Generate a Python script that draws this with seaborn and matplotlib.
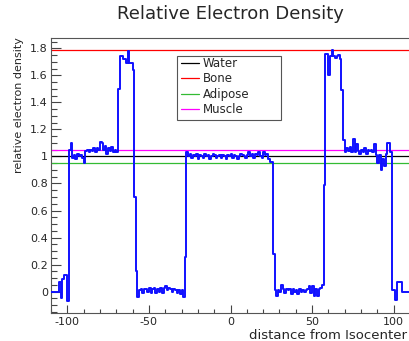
import numpy as np
import pandas as pd
import matplotlib
matplotlib.use('Agg')
import matplotlib.pyplot as plt
import matplotlib.patches as mpatches
from matplotlib.ticker import MultipleLocator, FuncFormatter
import seaborn as sns

# histogram binning (1 mm bins from -110 to 110)
bin_low, bin_width = -110, 1

# relative electron density per bin, split by region of the phantom
tail_left = [0.00, 0.00, 0.00, 0.00, 0.00, 0.07, -0.05, 0.09, 0.12, 0.12, -0.07]
soft_left = [1.05, 1.10, 0.99, 1.01, 0.98, 1.02, 1.00, 1.01, 0.99, 0.95,
             1.04, 1.05, 1.03, 1.05, 1.04, 1.06, 1.03, 1.06, 1.05, 1.11,
             1.10, 1.05, 1.08, 1.02, 1.06, 1.04, 1.07, 1.03, 1.05, 1.03]
bone_left = [1.50, 1.74, 1.74, 1.72, 1.72, 1.69, 1.78, 1.69, 1.69, 1.64, 0.70, 0.15]
gap_left = [-0.04, 0.01, 0.02, -0.01, 0.02, 0.02, 0.00, 0.03, -0.01, 0.02,
            0.03, -0.01, 0.02, 0.00, 0.03, -0.01, 0.03, 0.04, 0.01, 0.03,
            0.02, 0.00, 0.02, 0.01, -0.01, 0.01, -0.02, 0.01, -0.04, 0.26]
center = [1.03, 1.00, 1.02, 0.99, 1.01, 1.00, 1.02, 0.98, 1.01, 1.00,
          0.99, 1.02, 1.00, 1.01, 0.98, 1.00, 1.02, 1.01, 0.99, 1.00,
          1.01, 0.99, 1.01, 1.00, 0.98, 1.01, 1.00, 1.02, 0.99, 1.01,
          1.00, 0.98, 1.00, 1.02, 1.01, 1.00, 0.99, 1.01, 1.03, 1.00,
          1.02, 0.99, 1.02, 1.01, 1.03, 1.00, 0.99, 1.03, 1.01, 1.02,
          0.98, 0.96, 0.96]
gap_right = [0.28, 0.01, -0.03, 0.01, 0.00, 0.05, 0.02, -0.01, 0.02, 0.01,
             0.02, -0.02, 0.02, 0.00, 0.01, -0.02, 0.02, 0.00, 0.01, 0.00,
             0.01, 0.02, 0.04, -0.01, 0.04, -0.03, 0.02, -0.03, 0.02, 0.03, 0.05]
bone_right = [0.79, 1.76, 1.76, 1.60, 1.74, 1.79, 1.74, 1.73, 1.74, 1.75, 1.72, 1.49]
soft_right = [1.12, 1.03, 1.06, 1.04, 1.07, 1.03, 1.13, 1.03, 1.09, 1.04,
              1.02, 1.05, 1.03, 1.06, 1.02, 1.05, 1.04, 1.05, 1.03, 1.09,
              1.01, 0.95, 1.01, 0.90, 0.98, 0.93, 1.02, 1.10, 1.10, 1.03]
tail_right = [0.01, 0.01, -0.06, 0.07, 0.07, 0.07, 0.00, 0.00, 0.00, 0.00, 0.00]

# reference materials
materials = ['Water', 'Bone', 'Adipose', 'Muscle']
material_density = [1.00, 1.79, 0.95, 1.05]
material_colors = ['black', '#ff0000', '#33bb33', '#ff00ff']

density = (tail_left + soft_left + bone_left + gap_left + center
           + gap_right + bone_right + soft_right + tail_right)
edges = bin_low + bin_width * np.arange(len(density) + 1)
df = pd.DataFrame({'distance': edges, 'density': density + [density[-1]]})

sns.set_style('ticks')
plt.rcParams['font.family'] = ['DejaVu Sans']
plt.rcParams['axes.unicode_minus'] = False

fig = plt.figure(figsize=(4.09, 3.41), dpi=100)
ax = fig.add_axes([51 / 409, 27.7 / 341, 359 / 409, 275.3 / 341])

for name, val, col in zip(materials, material_density, material_colors):
    ax.axhline(val, color=col, lw=0.9, label=name, zorder=2)

sns.lineplot(data=df, x='distance', y='density', estimator=None, sort=False,
             drawstyle='steps-post', color='#1010ff', lw=1.4, ax=ax, zorder=3)

ax.set_xlim(-110, 110)
ax.set_ylim(-0.16, 1.876)
ax.xaxis.set_major_locator(MultipleLocator(50))
ax.xaxis.set_minor_locator(MultipleLocator(10))
ax.yaxis.set_major_locator(MultipleLocator(0.2))
ax.yaxis.set_minor_locator(MultipleLocator(0.05))
ax.yaxis.set_major_formatter(FuncFormatter(lambda v, p: f'{v:g}'))
ax.tick_params(which='both', direction='in', color='#444444', labelsize=8, width=0.8)
ax.tick_params(axis='y', which='major', length=7.5, pad=2.2)
ax.tick_params(axis='y', which='minor', length=4.3)
ax.tick_params(axis='x', which='major', length=5.8, pad=2.4)
ax.tick_params(axis='x', which='minor', length=2.9)
for sp in ax.spines.values():
    sp.set_color('#555555')
    sp.set_linewidth(0.8)

ax.set_xlabel('distance from Isocenter', fontsize=9.5, loc='right')
ax.xaxis.label.set_va('baseline')
ax.xaxis.set_label_coords((407 - 51) / 359, -0.0925)
ax.set_ylabel('relative electron density', fontsize=8, loc='top')
ax.yaxis.set_label_coords(-0.075, 1.004)

fig.text(230 / 409, 1 - 19 / 341, 'Relative Electron Density', fontsize=13,
         ha='center', va='baseline')

box = mpatches.Rectangle((177 / 409, 1 - 120 / 341), 104 / 409, 64 / 341,
                         transform=fig.transFigure, facecolor='white',
                         edgecolor='#555555', lw=0.8, zorder=4, clip_on=False)
ax.add_patch(box)
leg = ax.legend(loc='upper left', bbox_to_anchor=(180.5 / 409, 1 - 57 / 341),
                bbox_transform=fig.transFigure, frameon=False, fontsize=8.5,
                handlelength=1.6, handletextpad=0.3, labelspacing=0.2,
                borderpad=0, borderaxespad=0)
leg.set_zorder(5)

fig.savefig('out.png', dpi=100)
